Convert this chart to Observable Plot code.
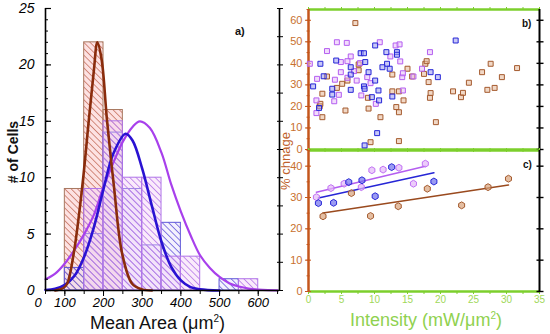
<!DOCTYPE html>
<html><head><meta charset="utf-8">
<script src="https://cdn.jsdelivr.net/npm/d3@7"></script>
<script src="https://cdn.jsdelivr.net/npm/@observablehq/plot@0.6"></script>
<style>
body{margin:0;background:#fff}
#wrap{position:relative;width:550px;height:334px;overflow:hidden;background:#fff;font-family:"Liberation Sans",Arial,Helvetica,sans-serif}
#wrap svg{position:absolute;left:0;top:0}
.lbl{position:absolute;white-space:nowrap;line-height:1}
.rot{transform:translate(-50%,-50%) rotate(-90deg)}
</style></head>
<body>
<svg width="0" height="0" style="position:absolute">
<defs>
<pattern id="hatchRed" patternUnits="userSpaceOnUse" width="4.5" height="4.5" patternTransform="rotate(-45)">
<rect width="4.5" height="4.5" fill="#fac0c0" fill-opacity="0.45"/>
<line x1="2.25" y1="0" x2="2.25" y2="4.5" stroke="#c87464" stroke-width="0.8"/>
</pattern>
<pattern id="hatchBlue" patternUnits="userSpaceOnUse" width="4.5" height="4.5" patternTransform="rotate(-45)">
<rect width="4.5" height="4.5" fill="#dcd4fb" fill-opacity="0.3"/>
<line x1="2.25" y1="0" x2="2.25" y2="4.5" stroke="#6a5cdc" stroke-width="0.8"/>
</pattern>
<pattern id="hatchPurple" patternUnits="userSpaceOnUse" width="4.5" height="4.5" patternTransform="rotate(-45)">
<rect width="4.5" height="4.5" fill="#f3cdf6" fill-opacity="0.4"/>
<line x1="2.25" y1="0" x2="2.25" y2="4.5" stroke="#b87ce8" stroke-width="0.8"/>
</pattern>
</defs>
</svg>
<div id="wrap"></div>
<script>
// ---------- Panel a) histogram of mean cell area ----------
const binLo       = [100, 150, 200, 250, 300, 350, 400, 450, 500, 550];
const BIN = 50;
const redCount    = [9, 22, 16, 0, 0, 0, 0, 0, 0, 0];
const blueCount   = [2, 5, 14, 9, 4, 6, 0, 0, 1, 0];
const purpleCount = [0, 9, 15, 10, 10, 3, 3, 0, 0, 1];

const redFitX    = [75, 95, 106, 123, 145, 162, 175, 184, 195, 209, 227, 248, 274, 300, 325];
const redFitY    = [0, 0.2, 0.6, 3.3, 9.2, 15.1, 19.5, 22, 20.5, 15.1, 9.2, 3.3, 0.6, 0.1, 0];
const blueFitX   = [50, 75, 100, 125, 150, 175, 200, 225, 257, 275, 300, 325, 350, 375, 400, 425, 450, 500];
const blueFitY   = [0.05, 0.15, 0.5, 1.3, 3.0, 5.6, 9.0, 12.1, 13.9, 13.3, 10.8, 7.5, 4.3, 2.1, 0.9, 0.3, 0.1, 0];
const purpleFitX = [50, 75, 100, 125, 150, 175, 200, 225, 250, 275, 294, 320, 350, 375, 400, 425, 450, 475, 500, 525, 550, 575, 600, 625, 650];
const purpleFitY = [1.0, 1.5, 2.4, 3.6, 5.0, 6.7, 9.2, 11.3, 13.2, 14.5, 15.0, 14.4, 12.2, 9.4, 7.0, 4.9, 3.1, 2.0, 1.2, 0.65, 0.35, 0.17, 0.08, 0.03, 0.01];

const aXDomain = [50, 655];
const aYDomain = [0, 25];
const aXTicks  = [100, 200, 300, 400, 500, 600];
const aXZero   = [0];
const aYTicks  = [0, 5, 10, 15, 20, 25];

// ---------- Panel b) % change vs intensity ----------
const bBrownX  = [7.1, 7.6, 2.8, 2.1, 2.1, 5.6, 9.1, 9, 10.9, 12.7, 12.7, 13.3, 13.7, 14.4, 13.7, 15, 15.7, 17.7, 17.9, 18.2, 18.5, 18.4, 17.5, 19.3, 13.7, 9.4, 21.9, 23.1, 23.4, 24.3, 26.3, 27.1, 27.6, 28.2, 29.3, 31.6, 5.1, 4.3, 7.6, 5.9, 1.7, 1.8];
const bBrownY  = [58.7, 39.5, 33.9, 25.9, 15, 18.1, 19, 24, 15, 34.8, 27, 19.7, 17.3, 22.8, 27, 37.5, 33.9, 39.8, 41, 31.3, 26.2, 24, 35.1, 12.7, 3.9, 3.4, 27, 24.3, 26.3, 31, 35.9, 27.7, 39.8, 28.6, 33.6, 37.8, 30.5, 28.6, 36.8, 32, 20.1, 21.2];
const bPurpleX = [0.2, 1.3, 1.2, 1.2, 2.8, 4.3, 5.8, 4.9, 4, 3.9, 4.6, 4.9, 5.9, 6.4, 6.9, 7.3, 8, 8.9, 9.4, 10.8, 10.2, 12.4, 13.2, 13.8, 13.9, 14.2, 14.3, 14.3, 15.9, 18.4, 17.2, 7.8, 5.9];
const bPurpleY = [39.8, 32.8, 22.8, 16.9, 45.7, 49.8, 49.5, 40.6, 32.4, 22.4, 25.4, 35.9, 33.3, 43.2, 36.4, 32, 25.1, 33.6, 30.8, 49.8, 21.2, 43.2, 48.3, 48.8, 40.9, 33.6, 27.4, 35.4, 33.9, 45.2, 37.5, 40.1, 41];
const bBlueX   = [0.7, 1.6, 1.8, 2.3, 3.6, 3.6, 4.2, 6.4, 6.4, 6.4, 7.9, 8.4, 8.6, 9.1, 8.4, 8.5, 9.6, 10.1, 10.1, 10.4, 10.6, 10.7, 11.8, 11.9, 12.3, 13.4, 13.4, 12.7, 18.5, 19.6, 22.3, 8.5, 11.2];
const bBlueY   = [29.3, 19.3, 39.8, 34, 28.2, 25.5, 41.3, 38.2, 34.8, 27.7, 44.7, 44.7, 40.6, 35.9, 29.3, 28.2, 24.3, 32, 48.3, 7.6, 27.4, 22.8, 45.2, 39.8, 37.5, 45.2, 44, 24.6, 35.9, 33.6, 50.6, 1.9, 38.2];
const bYDomain = [0, 65];
const bYTicks  = [0, 10, 20, 30, 40, 50, 60];

// ---------- Panel c) averaged % change vs intensity ----------
const cPurpleX = [1.2, 3.4, 5.4, 8, 9.6, 11.3, 13.7, 15.9, 17.7];
const cPurpleY = [30.1, 33, 34.4, 33.3, 38.7, 38.9, 39.5, 34.4, 40.8];
const cBlueX   = [1.5, 3.8, 6.1, 8.1, 10.1, 12.6, 19];
const cBlueY   = [28.2, 28.3, 34.9, 35.5, 30.4, 39.7, 35.1];
const cBrownX  = [2.2, 6.5, 9.4, 13.6, 18, 23.2, 27.2, 30.3];
const cBrownY  = [24, 31.4, 24.1, 27.2, 32.8, 27.5, 33.3, 36];
const cYDomain = [0, 45];
const cYTicks  = [0, 10, 20, 30, 40];
const rXDomain = [0, 35];
const rXTicks  = [0, 5, 10, 15, 20, 25, 30, 35];

// ---------- helpers ----------
const font = "Liberation Sans, Arial, Helvetica, sans-serif";
const W = 550, H = 334;
const zip = (xs, ys) => xs.map((x, i) => ({x, y: ys[i]}));
const bars = counts => binLo.map((x, i) => ({x1: x, x2: x + BIN, y1: 0, y2: counts[i]})).filter(d => d.y2 > 0);
const blank = () => "";
const ORANGE = "#c4561c", ORANGE_T = "#c8702e", GREEN = "#7ccf2c", GREEN_T = "#9fd85a";
const BROWN = "#a45a2e", PURPLE = "#b45ef0", BLUE = "#2626d6";

const wrap = document.getElementById("wrap");

// Panel a
const a = Plot.plot({
  width: W, height: H,
  marginLeft: 45, marginRight: 271, marginTop: 8, marginBottom: 44,
  x: {domain: aXDomain, label: null},
  y: {domain: aYDomain, label: null},
  style: {fontFamily: font, background: "transparent", overflow: "visible", color: "#000"},
  marks: [
    Plot.rect(bars(redCount), {x1: "x1", x2: "x2", y1: "y1", y2: "y2", fill: "url(#hatchRed)", stroke: "#a87860", strokeWidth: 1}),
    Plot.rect(bars(blueCount), {x1: "x1", x2: "x2", y1: "y1", y2: "y2", fill: "url(#hatchBlue)", stroke: "#6058d8", strokeWidth: 1}),
    Plot.rect(bars(purpleCount), {x1: "x1", x2: "x2", y1: "y1", y2: "y2", fill: "url(#hatchPurple)", stroke: "#b074e8", strokeWidth: 1}),
    Plot.line(zip(purpleFitX, purpleFitY), {x: "x", y: "y", stroke: "#a840ec", strokeWidth: 2.2, curve: "catmull-rom"}),
    Plot.line(zip(blueFitX, blueFitY), {x: "x", y: "y", stroke: "#2a12d2", strokeWidth: 2.6, curve: "catmull-rom"}),
    Plot.line(zip(redFitX, redFitY), {x: "x", y: "y", stroke: "#8a2c0c", strokeWidth: 2.6, curve: "catmull-rom"}),
    Plot.ruleX([aXDomain[0], aXDomain[1]], {stroke: "#000", strokeWidth: 1.6}),
    Plot.ruleY([aYDomain[0]], {stroke: "#000", strokeWidth: 1.6}),
    Plot.axisY(aYTicks, {anchor: "left", tickSize: 0, tickPadding: 11, fontSize: 14, fontStyle: "italic", label: null}),
    Plot.axisY(aYTicks, {anchor: "left", tickSize: 6, dx: 6, tickFormat: blank, label: null, strokeWidth: 1.2}),
    Plot.axisY(d3.range(0, 25.01, 1), {anchor: "left", tickSize: 3, dx: 3, tickFormat: blank, label: null}),
    Plot.axisY(d3.range(0, 25.01, 2.5), {anchor: "right", tickSize: 6, dx: -3, tickFormat: blank, label: null}),
    Plot.axisX(d3.range(50, 651, 50), {anchor: "bottom", tickSize: 4, tickFormat: blank, label: null}),
    Plot.axisX(aXTicks, {anchor: "bottom", tickSize: 6, tickPadding: 1, fontSize: 13, fontStyle: "italic", label: null}),
    Plot.axisX(aXZero, {anchor: "bottom", tickSize: 0, tickPadding: 7, dx: 12, fontSize: 13, fontStyle: "italic", label: null})
  ]
});
wrap.appendChild(a);

function rightPanel(yDomain, yTicks, marginTop, marginBottom, dataMarks, withXLabels) {
  return Plot.plot({
    width: W, height: H,
    marginLeft: 308, marginRight: 11, marginTop, marginBottom,
    x: {domain: rXDomain, label: null},
    y: {domain: yDomain, label: null},
    style: {fontFamily: font, background: "transparent", overflow: "visible"},
    marks: [
      Plot.axisX(d3.range(0, 35.01, 2.5), {anchor: "top", tickSize: 3, stroke: GREEN, tickFormat: blank, label: null}),
      Plot.axisX(d3.range(0, 35.01, 2.5), {anchor: "bottom", tickSize: 3, stroke: GREEN, tickFormat: blank, label: null}),
      withXLabels ? Plot.axisX(rXTicks, {anchor: "bottom", tickSize: 0, tickPadding: 4, fill: GREEN_T, fontSize: 10, label: null}) : null,
      Plot.ruleY([yDomain[0], yDomain[1]], {stroke: GREEN, strokeWidth: 2.5}),
      Plot.ruleX([rXDomain[1]], {stroke: "#000", strokeWidth: 2}),
      Plot.ruleX([rXDomain[0]], {stroke: ORANGE, strokeWidth: 2.5}),
      Plot.axisY(yTicks, {anchor: "left", tickSize: 6, dx: 3, tickPadding: 3, stroke: ORANGE, fill: ORANGE_T, fontSize: 11, label: null}),
      Plot.axisY(d3.range(yDomain[0], yDomain[1] + 0.01, 5), {anchor: "left", tickSize: 3, dx: 1.5, stroke: ORANGE, tickFormat: blank, label: null}),
      Plot.axisY(yTicks, {anchor: "right", tickSize: 7, dx: -3.5, stroke: "#000", strokeWidth: 1.4, tickFormat: blank, label: null}),
      ...dataMarks
    ]
  });
}

const b = rightPanel(bYDomain, bYTicks, 9, 185, [
  Plot.dot(zip(bBrownX, bBrownY), {x: "x", y: "y", symbol: "square", r: 2.8, stroke: BROWN, fill: "#e6b898", fillOpacity: 0.55, strokeWidth: 1}),
  Plot.dot(zip(bPurpleX, bPurpleY), {x: "x", y: "y", symbol: "square", r: 2.8, stroke: PURPLE, fill: "#e8c0f8", fillOpacity: 0.55, strokeWidth: 1}),
  Plot.dot(zip(bBlueX, bBlueY), {x: "x", y: "y", symbol: "square", r: 2.8, stroke: BLUE, fill: "#9a9af0", fillOpacity: 0.55, strokeWidth: 1})
], false);
wrap.appendChild(b);

const c = rightPanel(cYDomain, cYTicks, 150, 43, [
  Plot.linearRegressionY(zip(cPurpleX, cPurpleY), {x: "x", y: "y", stroke: PURPLE, strokeWidth: 1.6, ci: 0}),
  Plot.linearRegressionY(zip(cBlueX, cBlueY), {x: "x", y: "y", stroke: BLUE, strokeWidth: 1.6, ci: 0}),
  Plot.linearRegressionY(zip(cBrownX, cBrownY), {x: "x", y: "y", stroke: "#9a4a1e", strokeWidth: 1.6, ci: 0}),
  Plot.dot(zip(cPurpleX, cPurpleY), {x: "x", y: "y", symbol: "hexagon", r: 3, stroke: "#c070f4", fill: "#e4b8f8", fillOpacity: 0.7, strokeWidth: 1}),
  Plot.dot(zip(cBlueX, cBlueY), {x: "x", y: "y", symbol: "hexagon", r: 3, stroke: BLUE, fill: "#7070ec", fillOpacity: 0.7, strokeWidth: 1}),
  Plot.dot(zip(cBrownX, cBrownY), {x: "x", y: "y", symbol: "hexagon", r: 3, stroke: BROWN, fill: "#d8a27a", fillOpacity: 0.7, strokeWidth: 1})
], true);
wrap.appendChild(c);

// Labels
function label(text, style, cls) {
  const d = document.createElement("div");
  d.className = "lbl" + (cls ? " " + cls : "");
  d.innerHTML = text;
  Object.assign(d.style, style);
  wrap.appendChild(d);
}
label("Mean Area (&mu;m<sup style='font-size:10px;vertical-align:7px'>2</sup>)", {left: "90px", top: "314px", fontSize: "18px", color: "#111"});
label("Intensity (mW/&mu;m<sup style='font-size:10px;vertical-align:7px'>2</sup>)", {left: "350px", top: "311px", fontSize: "18px", color: "#8fd14f"});
label("# of Cells", {left: "13px", top: "152px", fontSize: "14px", fontWeight: "bold", color: "#111"}, "rot");
label("% chnage", {left: "285px", top: "161px", fontSize: "13px", color: "#c0602a"}, "rot");
label("a)", {left: "235px", top: "26px", fontSize: "11px", fontWeight: "bold", color: "#111"});
label("b)", {left: "522px", top: "19px", fontSize: "10px", fontWeight: "bold", color: "#111"});
label("c)", {left: "523px", top: "160px", fontSize: "10px", fontWeight: "bold", color: "#111"});
</script>
</body></html>
